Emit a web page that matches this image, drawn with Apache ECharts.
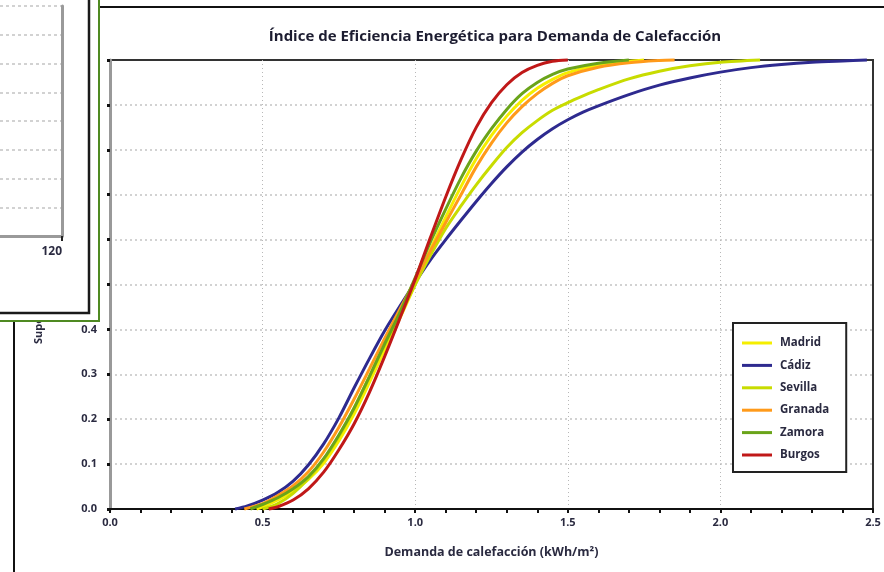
<!DOCTYPE html>
<html><head><meta charset="utf-8">
<script src="https://cdn.jsdelivr.net/npm/echarts@6/dist/echarts.min.js"></script>
<style>html,body{margin:0;padding:0;background:#fff}#c{width:884px;height:572px}</style>
</head><body><div id="c"></div>
<script>
// ---- Data ----
const cities = ['Madrid', 'Cádiz', 'Sevilla', 'Granada', 'Zamora', 'Burgos'];
const cityColors = ['#f5ee00', '#2e2a8f', '#c8dc00', '#ff9a1a', '#6aa41a', '#c01818'];

const madridX = [0.48,0.50,0.55,0.60,0.65,0.70,0.75,0.80,0.85,0.90,0.95,1.00,1.05,1.10,1.15,1.20,1.25,1.30,1.35,1.40,1.45,1.50,1.60,1.70,1.75];
const madridY = [0.000,0.005,0.020,0.040,0.066,0.102,0.152,0.212,0.282,0.355,0.425,0.500,0.578,0.650,0.718,0.780,0.832,0.875,0.910,0.937,0.957,0.972,0.989,0.997,1.000];

const cadizX = [0.41,0.45,0.50,0.55,0.60,0.65,0.70,0.75,0.80,0.85,0.90,0.95,1.00,1.05,1.10,1.15,1.20,1.25,1.30,1.35,1.40,1.45,1.50,1.55,1.60,1.70,1.80,1.90,2.00,2.10,2.20,2.30,2.40,2.48];
const cadizY = [0.000,0.007,0.020,0.037,0.062,0.098,0.145,0.203,0.270,0.335,0.397,0.452,0.505,0.555,0.600,0.643,0.685,0.725,0.762,0.795,0.823,0.847,0.867,0.884,0.898,0.923,0.944,0.960,0.973,0.983,0.990,0.995,0.998,1.000];

const sevillaX = [0.50,0.55,0.60,0.65,0.70,0.75,0.80,0.85,0.90,0.95,1.00,1.05,1.10,1.15,1.20,1.25,1.30,1.35,1.40,1.45,1.50,1.55,1.60,1.70,1.80,1.90,2.00,2.13];
const sevillaY = [0.000,0.012,0.035,0.068,0.110,0.162,0.225,0.295,0.365,0.432,0.500,0.565,0.625,0.675,0.722,0.765,0.805,0.838,0.865,0.888,0.905,0.920,0.934,0.958,0.975,0.987,0.995,1.000];

const granadaX = [0.44,0.50,0.55,0.60,0.65,0.70,0.75,0.80,0.85,0.90,0.95,1.00,1.05,1.10,1.15,1.20,1.25,1.30,1.35,1.40,1.45,1.50,1.60,1.70,1.80,1.85];
const granadaY = [0.000,0.012,0.030,0.052,0.083,0.127,0.182,0.245,0.312,0.380,0.445,0.510,0.575,0.638,0.700,0.762,0.815,0.860,0.896,0.925,0.948,0.965,0.984,0.994,0.999,1.000];

const zamoraX = [0.46,0.50,0.55,0.60,0.65,0.70,0.75,0.80,0.85,0.90,0.95,1.00,1.05,1.10,1.15,1.20,1.25,1.30,1.35,1.40,1.45,1.50,1.60,1.70];
const zamoraY = [0.000,0.010,0.025,0.045,0.072,0.112,0.165,0.225,0.295,0.368,0.438,0.515,0.595,0.668,0.737,0.797,0.847,0.890,0.925,0.950,0.968,0.980,0.993,1.000];

const burgosX = [0.52,0.55,0.60,0.65,0.70,0.75,0.80,0.85,0.90,0.95,1.00,1.05,1.10,1.15,1.20,1.25,1.30,1.35,1.40,1.45,1.50];
const burgosY = [0.000,0.005,0.020,0.045,0.082,0.132,0.190,0.260,0.340,0.425,0.512,0.605,0.695,0.778,0.850,0.905,0.945,0.972,0.988,0.997,1.000];

const seriesX = [madridX, cadizX, sevillaX, granadaX, zamoraX, burgosX];
const seriesY = [madridY, cadizY, sevillaY, granadaY, zamoraY, burgosY];

const titleText = 'Índice de Eficiencia Energética para Demanda de Calefacción';
const xAxisTitle = 'Demanda de calefacción (kWh/m²)';
const yAxisTitle = 'Superficie acumulada';
// background (partially covered) chart: only its last x tick is visible
const bgXMin = 110, bgXMax = 120, bgXStep = 10;
const bgYMax = 8;

// ---- Chart ----
const FONT = '"Open Sans", Lato, sans-serif';
const LABEL_COLOR = '#2a2a40';
const chart = echarts.init(document.getElementById('c'), null, {renderer: 'canvas'});

const series = cities.map((name, i) => ({
  name: name,
  type: 'line',
  xAxisIndex: 0, yAxisIndex: 0,
  data: seriesX[i].map((x, k) => [x, seriesY[i][k]]),
  smooth: 0.3,
  showSymbol: false,
  symbol: 'none',
  clip: false,
  lineStyle: {color: cityColors[i], width: 3},
  itemStyle: {color: cityColors[i]},
  z: 3
}));

const option = {
  animation: false,
  backgroundColor: '#fff',
  title: {
    text: titleText,
    left: 490, top: 24, textAlign: 'center',
    textStyle: {fontFamily: FONT, fontWeight: 'bold', fontSize: 15, color: '#1c1c30'}
  },
  legend: {
    data: cities,
    orient: 'vertical',
    left: 733, top: 323,
    padding: [13, 17, 10, 9],
    itemGap: 8.4,
    itemWidth: 30, itemHeight: 3,
    icon: 'rect',
    backgroundColor: '#fff',
    borderColor: '#222', borderWidth: 2,
    textStyle: {fontFamily: FONT, fontWeight: 'bold', fontSize: 11.5, color: LABEL_COLOR, lineHeight: 14, padding: [0, 0, 0, 3]},
    z: 20
  },
  grid: [
    {left: 110, top: 60, right: 11, bottom: 63, show: true, borderColor: '#333', borderWidth: 2, containLabel: false},
    {left: 0, top: 6, right: 822, bottom: 336, show: false, containLabel: false}
  ],
  xAxis: [
    {
      type: 'value', gridIndex: 0, min: 0, max: 2.5, interval: 0.5,
      name: xAxisTitle, nameLocation: 'middle', nameGap: 37,
      nameTextStyle: {fontFamily: FONT, fontWeight: 'bold', fontSize: 12.5, color: LABEL_COLOR},
      axisLine: {show: true, onZero: false, lineStyle: {color: '#111', width: 2}},
      axisTick: {show: true, length: 4, lineStyle: {color: '#111', width: 2}},
      minorTick: {show: true, splitNumber: 5, length: 4, lineStyle: {color: '#111', width: 2}},
      axisLabel: {margin: 8, fontFamily: FONT, fontWeight: 'bold', fontSize: 11, color: LABEL_COLOR,
                  formatter: v => v.toFixed(1)},
      splitLine: {show: true, showMinLine: false, showMaxLine: false, lineStyle: {color: '#b8b8b8', width: 1, type: [1, 3]}}
    },
    {
      type: 'value', gridIndex: 1, min: bgXMin, max: bgXMax, interval: bgXStep, z: 110,
      axisLine: {show: true, onZero: false, lineStyle: {color: '#9a9a9a', width: 3}},
      axisTick: {show: true, length: 5, lineStyle: {color: '#222', width: 2}},
      axisLabel: {show: true, showMinLabel: false, align: 'right', margin: 10, fontFamily: FONT, fontWeight: 'bold', fontSize: 12, color: LABEL_COLOR},
      splitLine: {show: false}
    }
  ],
  yAxis: [
    {
      type: 'value', gridIndex: 0, min: 0, max: 1, interval: 0.1,
      name: yAxisTitle, nameLocation: 'middle', nameRotate: 90, nameGap: 66,
      nameTextStyle: {fontFamily: FONT, fontWeight: 'bold', fontSize: 11, color: LABEL_COLOR},
      axisLine: {show: true, lineStyle: {color: '#999', width: 3}},
      axisTick: {show: true, length: 3, lineStyle: {color: '#111', width: 3}},
      axisLabel: {margin: 13, fontFamily: FONT, fontWeight: 'bold', fontSize: 11, color: LABEL_COLOR,
                  formatter: v => v.toFixed(1)},
      splitLine: {show: true, showMinLine: false, showMaxLine: false, lineStyle: {color: '#c4c4c4', width: 1.5, type: [2, 3]}}
    },
    {
      type: 'value', gridIndex: 1, min: 0, max: bgYMax, interval: 1, position: 'right', z: 110,
      axisLine: {show: true, onZero: false, lineStyle: {color: '#9a9a9a', width: 3}},
      axisTick: {show: false},
      axisLabel: {show: false},
      splitLine: {show: true, lineStyle: {color: '#c4c4c4', width: 1.5, type: [3, 3]}}
    }
  ],
  graphic: [
    // outer frame of the main chart
    {type: 'rect', z: 0, shape: {x: 14, y: 7, width: 900, height: 600},
     style: {fill: 'none', stroke: '#111', lineWidth: 2}},
    // overlapping panel on the top-left
    {type: 'rect', z: 100, shape: {x: -5, y: -5, width: 104, height: 326},
     style: {fill: '#fff', stroke: 'none'}},
    {type: 'polyline', z: 120, shape: {points: [[-5, 313], [89, 313], [89, -5]]},
     style: {fill: 'none', stroke: '#1a1a1a', lineWidth: 2.5}},
    {type: 'polyline', z: 120, shape: {points: [[-5, 321], [99, 321], [99, -5]]},
     style: {fill: 'none', stroke: '#4f8a22', lineWidth: 2}}
  ],
  series: series
};
chart.setOption(option);
</script>
</body></html>
